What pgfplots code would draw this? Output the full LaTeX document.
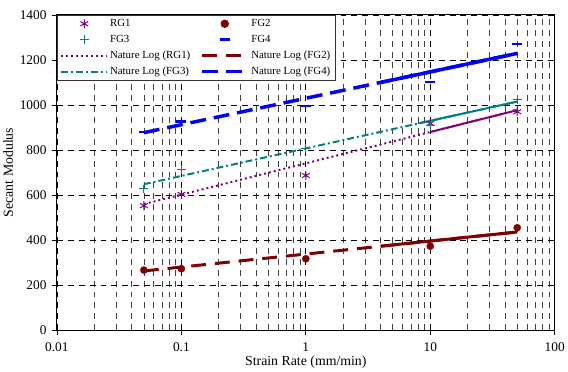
\documentclass[border=0pt]{standalone}
\usepackage{fontspec}
\setmainfont{Liberation Serif}
\usepackage{pgfplots}
\pgfplotsset{compat=1.18}
\definecolor{cRG}{HTML}{800080}
\definecolor{cFGtwo}{HTML}{800000}
\definecolor{cFGthree}{HTML}{008080}
\definecolor{cFGfour}{HTML}{0000FF}
\begin{document}
\begin{tikzpicture}
\begin{axis}[
  scale only axis, width=502bp, height=318bp,
  xmode=log, xmin=0.01, xmax=100, ymin=0, ymax=1400,
  xtick={0.01,0.1,1,10,100}, xticklabels={0.01,0.1,1,10,100},
  ytick={0,200,...,1400},
  /pgf/number format/assume math mode=true,
  /pgf/number format/1000 sep={},
  ticklabel style={font=\fontsize{13.5}{16}\selectfont},
  x tick label style={yshift=-4bp},
  y tick label style={xshift=-2bp},
  label style={font=\fontsize{14}{16}\selectfont},
  xlabel={Strain Rate (mm/min)}, ylabel={Secant Modulus},
  xlabel style={yshift=3bp},
  ylabel style={yshift=0bp},
  xmajorgrids, xminorgrids, ymajorgrids,
  major grid style={black, dash pattern=on 6bp off 5bp, line width=0.7bp},
  minor grid style={black!75, dash pattern=on 6bp off 5bp, line width=0.7bp},
  axis line style={black, line width=1bp},
  tick style={black, line width=0.7bp},
  major tick length=5bp, minor tick length=0pt,
  tick align=outside,
  xtick pos=bottom, ytick pos=left,
  legend columns=2,
  legend cell align=left,
  legend style={at={(0,1)}, anchor=north west, draw=black!80, line width=1.2bp,
    font=\fontsize{11}{13}\selectfont, inner xsep=3bp, inner ysep=2bp,
    row sep=3.2bp,
    /tikz/every even column/.append style={column sep=8bp}},
  legend image code/.code={\draw[mark repeat=2,mark phase=2] plot coordinates {(0bp,0bp)(23bp,0bp)(46bp,0bp)};},
]
% data series
\addplot[only marks, cRG, mark=asterisk, mark size=4.5bp, line width=1bp]
  coordinates {(0.05,553) (0.1,603) (1,687) (10,918) (50,970)};
\addlegendentry{RG1}
\addplot[only marks, cFGtwo, mark=*, mark size=3.6bp]
  coordinates {(0.05,267) (0.1,273) (1,317) (10,373) (50,455)};
\addlegendentry{FG2}
\addplot[only marks, cFGthree, mark=+, mark size=4.5bp, line width=1bp]
  coordinates {(0.05,627) (0.1,713) (1,808) (10,910) (50,1024)};
\addlegendentry{FG3}
\addplot[only marks, cFGfour, mark=-, mark size=5bp, line width=2.5bp]
  coordinates {(0.05,880) (0.1,926) (1,995) (10,1103) (50,1270)};
\addlegendentry{FG4}
% trend lines
\addplot[cRG, line width=2bp, dash pattern=on 2bp off 3bp, no marks]
  coordinates {(0.05,560) (50,977)};
\addlegendentry{Nature Log (RG1)}
\addplot[cFGtwo, line width=3bp, dash pattern=on 15bp off 9bp, no marks]
  coordinates {(0.05,263) (50,436)};
\addlegendentry{Nature Log (FG2)}
\addplot[cFGthree, line width=2bp, dash pattern=on 7bp off 3bp on 2bp off 3bp, no marks]
  coordinates {(0.05,648) (50,1015)};
\addlegendentry{Nature Log (FG3)}
\addplot[cFGfour, line width=3.5bp, dash pattern=on 16bp off 8bp, no marks]
  coordinates {(0.05,877) (50,1229)};
\addlegendentry{Nature Log (FG4)}
% solid right-hand parts of the trend lines
\addplot[cRG, line width=2bp, no marks, forget plot] coordinates {(10,880) (50,977)};
\addplot[cFGtwo, line width=3bp, no marks, forget plot] coordinates {(4,373) (50,436)};
\addplot[cFGthree, line width=2bp, no marks, forget plot] coordinates {(8,918) (50,1015)};
\addplot[cFGfour, line width=3.5bp, no marks, forget plot] coordinates {(4,1100) (50,1229)};
\end{axis}
\path ([yshift=15bp]current axis.north west);
\end{tikzpicture}
\end{document}
